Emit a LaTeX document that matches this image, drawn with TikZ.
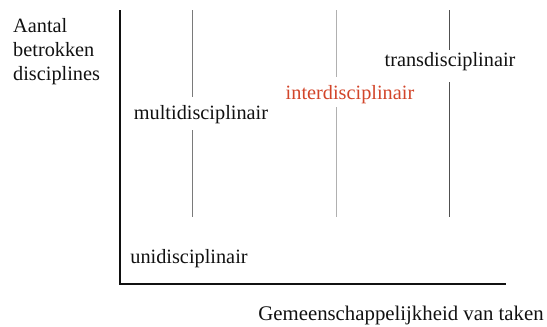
\documentclass[tikz,border=0pt]{standalone}
\usepackage{fontspec}
\setmainfont{Liberation Serif}
\usetikzlibrary{positioning}
\definecolor{Ink}{HTML}{111111}
\definecolor{MidGray}{HTML}{7A7A7A}
\definecolor{LightGray}{HTML}{B0B0B0}
\definecolor{DarkGray}{HTML}{505050}
\definecolor{Brick}{HTML}{D2452A}
\tikzset{
  axis/.style={draw=Ink,line width=2.6pt},
  divider/.style={line width=1pt},
  lab/.style={font=\fontsize{20.3}{24}\selectfont,text=Ink,inner sep=0pt},
}
\begin{document}
\begin{tikzpicture}[x=1pt,y=-1pt]
    \useasboundingbox (0,0) rectangle (547,327);
    % axes
    \coordinate (top) at (120,10); \coordinate (orig) at (120,284); \coordinate (right) at (506,284);
    \draw[axis] (top)--(orig)--(right);
    % labels
    \node[lab,align=left,anchor=north west] (ylab) at (13,18) {Aantal\\betrokken\\disciplines};
    \node[lab,font=\fontsize{20.8}{24}\selectfont] (xlab) at (401,315) {Gemeenschappelijkheid van taken};
    \node[lab] (uni) at (189,259) {unidisciplinair};
    \node[lab] (multi) at (201,115) {multidisciplinair};
    \node[lab,text=Brick] (inter) at (350,95) {interdisciplinair};
    \node[lab] (trans) at (450,62) {transdisciplinair};
    % dividers
    \coordinate (m1) at (192,10); \coordinate (m2) at (192,97); \coordinate (m3) at (192,130); \coordinate (m4) at (192,217);
    \coordinate (i1) at (336,10); \coordinate (i2) at (336,77); \coordinate (i3) at (336,107); \coordinate (i4) at (336,217);
    \coordinate (t1) at (449,10); \coordinate (t2) at (449,50); \coordinate (t3) at (449,82); \coordinate (t4) at (449,217);
    \draw[divider,MidGray] (m1)--(m2) (m3)--(m4);
    \draw[divider,LightGray] (i1)--(i2) (i3)--(i4);
    \draw[divider,DarkGray] (t1)--(t2) (t3)--(t4);
\end{tikzpicture}
\end{document}
